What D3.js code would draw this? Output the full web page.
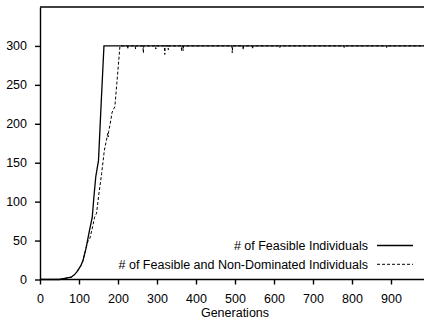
<html>
   <head>
      <title>Feasible individuals per generation</title>
      <script src="https://d3js.org/d3.v7.min.js" charset="utf-8"></script>
      <style>
         body {
            margin: 0;
            background: white;
            font-family: "Liberation Sans", Arial, Helvetica, sans-serif;
         }
         .axis text {
            font-size: 12.5px;
            font-family: "Liberation Sans", Arial, Helvetica, sans-serif;
            fill: black;
         }
         .axis path, .axis line {
            stroke: black;
            stroke-width: 1.4;
         }
      </style>
   </head>
   <body>
      <script>
         var width = 424;
         var height = 321;

         // generation / individuals
         var feasibleGen = [0, 50, 60, 70, 80, 88, 95, 100, 105, 110, 114, 118, 126, 134, 138, 143, 150, 157, 164, 1000];
         var feasibleVal = [0, 0, 1, 2, 3, 6, 10, 14, 18, 24, 32, 40, 61, 80, 105, 132, 153, 228, 300, 300];

         var nonDomGen = [0, 50, 60, 70, 80, 88, 95, 100, 105, 110, 114, 118, 122, 128, 135, 140, 145, 151, 158, 162, 165, 170, 174, 175, 176, 180, 185, 192, 197, 205,
                          224, 225, 226, 244, 245, 246, 264, 265, 266, 296, 297, 298, 319, 320, 321, 328, 329, 330,
                          362, 363, 364, 366, 367, 368, 369, 492, 493, 494, 520, 521, 522, 544, 545, 546,
                          614, 615, 616, 779, 780, 781, 888, 889, 890, 1000];
         var nonDomVal = [0, 0, 1, 2, 3, 6, 10, 14, 18, 24, 32, 40, 48, 53, 68, 80, 85, 110, 136, 153, 166, 178, 188, 183, 190, 200, 215, 222, 252, 300,
                          300, 296, 300, 300, 296, 300, 300, 291, 300, 300, 296, 300, 300, 289, 300, 300, 295, 300,
                          300, 294, 298, 300, 294, 300, 300, 300, 291, 300, 300, 295, 300, 300, 296, 300,
                          300, 298, 300, 300, 298, 300, 300, 298, 300, 300];

         var xTicks = [0, 100, 200, 300, 400, 500, 600, 700, 800, 900];
         var yTicks = [0, 50, 100, 150, 200, 250, 300];

         var legendNames = ["# of Feasible Individuals", "# of Feasible and Non-Dominated Individuals"];

         var svg = d3.select("body")
            .append("svg")
            .attr("width", width)
            .attr("height", height);

         var x = d3.scaleLinear().domain([0, 1000]).range([40, 430]);
         var y = d3.scaleLinear().domain([0, 350]).range([279.5, 7]);

         var line = d3.line()
            .x(function(d){ return x(d[0]); })
            .y(function(d){ return y(d[1]); });

         var nonDom = nonDomGen.map(function(g, i){ return [g, nonDomVal[i]]; });
         var feasible = feasibleGen.map(function(g, i){ return [g, feasibleVal[i]]; });

         svg.append("path")
            .datum(nonDom)
            .attr("fill", "none")
            .attr("stroke", "black")
            .attr("stroke-width", 1)
            .attr("stroke-dasharray", "3,2")
            .attr("d", line);

         svg.append("path")
            .datum(feasible)
            .attr("fill", "none")
            .attr("stroke", "black")
            .attr("stroke-width", 1.3)
            .attr("d", line);

         // top frame line
         svg.append("line")
            .attr("x1", x(0)).attr("x2", width)
            .attr("y1", y(350)).attr("y2", y(350))
            .attr("stroke", "black")
            .attr("stroke-width", 1.6);

         svg.append("g")
            .attr("class", "axis")
            .attr("transform", "translate(0," + y(0) + ")")
            .call(d3.axisBottom(x).tickValues(xTicks).tickSize(5).tickSizeOuter(0).tickPadding(10))
            .select(".domain").attr("d", "M" + x(0) + ",0H" + width);

         svg.append("g")
            .attr("class", "axis")
            .attr("transform", "translate(" + x(0) + ",0)")
            .call(d3.axisLeft(y).tickValues(yTicks).tickSize(5).tickSizeOuter(0).tickPadding(8));

         svg.append("text")
            .attr("x", 235)
            .attr("y", 316.5)
            .attr("text-anchor", "middle")
            .style("font-size", "12.5px")
            .text("Generations");

         var legend = svg.append("g");
         legendNames.forEach(function(name, i){
            var ly = 245.5 + i * 18.8;
            legend.append("text")
               .attr("x", 368)
               .attr("y", ly + 4.5)
               .attr("text-anchor", "end")
               .style("font-size", "12.5px")
               .text(name);
            legend.append("line")
               .attr("x1", 377).attr("x2", 413)
               .attr("y1", ly).attr("y2", ly)
               .attr("stroke", "black")
               .attr("stroke-width", i == 0 ? 1.3 : 1)
               .attr("stroke-dasharray", i == 0 ? null : "3,2");
         });
      </script>
   </body>
</html>
